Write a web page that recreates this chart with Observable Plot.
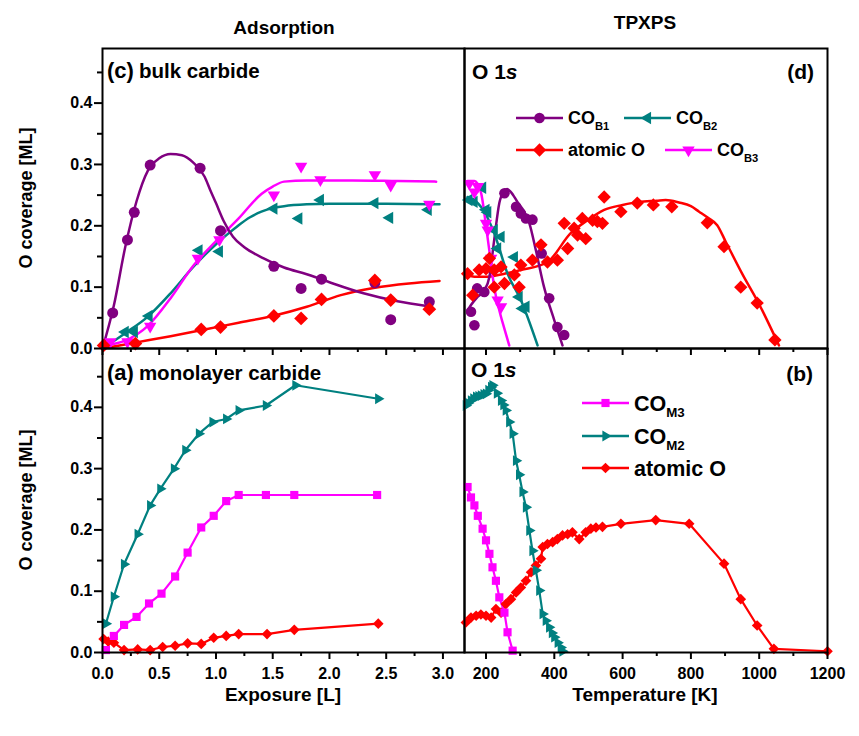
<!DOCTYPE html>
<html><head><meta charset="utf-8">
<script src="https://cdn.jsdelivr.net/npm/d3@7"></script>
<script src="https://cdn.jsdelivr.net/npm/@observablehq/plot@0.6"></script>
<style>
body{margin:0;background:#fff;}
#fig{position:relative;width:859px;height:736px;overflow:hidden;}
#fig svg{position:absolute;}
</style></head><body><div id="fig"></div>
<script>
// ---------- (c) bulk carbide: adsorption, O coverage vs exposure ----------
const bulkB1Exp = [0.09,0.22,0.28,0.42,0.86,1.04,1.51,1.75,1.93,2.40,2.54,2.88];
const bulkB1Cov = [0.058,0.177,0.222,0.299,0.294,0.192,0.134,0.098,0.113,0.107,0.047,0.076];
const bulkB1FitExp = [0,0.1,0.2,0.3,0.4,0.5,0.6,0.7,0.8,0.9,0.95,1.0,1.07,1.15,1.25,1.42,1.6,1.8,2.0,2.3,2.6,2.87];
const bulkB1FitCov = [0,0.07,0.165,0.24,0.29,0.31,0.317,0.315,0.303,0.28,0.258,0.237,0.207,0.182,0.165,0.147,0.132,0.121,0.108,0.09,0.077,0.069];

const bulkB2Exp = [0.20,0.28,0.41,0.85,1.03,1.51,1.73,1.92,2.40,2.53,2.87];
const bulkB2Cov = [0.027,0.027,0.053,0.160,0.158,0.228,0.212,0.242,0.237,0.213,0.226];
const bulkB2FitExp = [0,0.2,0.4,0.6,0.8,1.0,1.1,1.2,1.3,1.4,1.5,1.6,1.8,2.0,2.5,2.97];
const bulkB2FitCov = [0,0.025,0.052,0.09,0.133,0.17,0.186,0.201,0.214,0.223,0.229,0.232,0.235,0.236,0.236,0.235];

const bulkB3Exp = [0.07,0.22,0.42,0.84,1.03,1.51,1.75,1.92,2.40,2.54,2.88];
const bulkB3Cov = [0.011,0.011,0.036,0.147,0.177,0.25,0.297,0.275,0.283,0.266,0.235];
const bulkB3FitExp = [0,0.2,0.4,0.6,0.8,1.0,1.2,1.4,1.5,1.6,1.8,2.2,2.6,2.94];
const bulkB3FitCov = [0.005,0.013,0.037,0.082,0.135,0.175,0.212,0.252,0.264,0.272,0.274,0.274,0.273,0.272];

const bulkOExp = [0.01,0.29,0.87,1.04,1.51,1.75,1.93,2.40,2.54,2.88];
const bulkOCov = [0.005,0.008,0.031,0.035,0.053,0.049,0.08,0.111,0.079,0.064];
const bulkOFitExp = [0,0.3,0.6,0.9,1.2,1.5,1.8,2.1,2.4,2.7,2.97];
const bulkOFitCov = [0,0.01,0.02,0.031,0.042,0.053,0.068,0.087,0.099,0.106,0.11];

// ---------- (a) monolayer carbide: adsorption ----------
const monoM2Exp = [0.03,0.10,0.19,0.31,0.42,0.51,0.63,0.73,0.85,0.97,1.09,1.20,1.44,1.70,2.43];
const monoM2Cov = [0.047,0.091,0.144,0.193,0.240,0.267,0.300,0.330,0.357,0.376,0.381,0.395,0.403,0.436,0.414];
const monoM3Exp = [0.03,0.10,0.19,0.30,0.41,0.52,0.64,0.75,0.87,0.98,1.09,1.20,1.44,1.69,2.42];
const monoM3Cov = [0.004,0.027,0.045,0.058,0.08,0.096,0.124,0.163,0.204,0.223,0.247,0.257,0.257,0.257,0.257];
const monoOExp = [0.01,0.05,0.10,0.19,0.31,0.42,0.53,0.64,0.75,0.87,0.98,1.09,1.20,1.45,1.69,2.43];
const monoOCov = [0.022,0.018,0.016,0.004,0.005,0.004,0.009,0.011,0.015,0.014,0.024,0.027,0.030,0.030,0.037,0.047];

// ---------- (d) bulk carbide: TPXPS, O coverage vs temperature ----------
const tpdB1T = [156,166,174,195,254,288,302,317,336,363,385,409,429];
const tpdB1Cov = [0.060,0.038,0.098,0.092,0.253,0.231,0.220,0.212,0.210,0.155,0.082,0.035,0.022];
const tpdB1FitT = [146,156,175,195,210,224,239,254,262,273,292,312,327,346,370,400,424];
const tpdB1FitCov = [0.062,0.071,0.084,0.095,0.117,0.177,0.237,0.257,0.26,0.255,0.239,0.223,0.204,0.16,0.1,0.046,0.005];

const tpdB2T = [150,165,190,200,205,224,234,244,283,297,307,317];
const tpdB2Cov = [0.242,0.239,0.262,0.226,0.222,0.193,0.163,0.182,0.149,0.084,0.065,0.068];
const tpdB2FitT = [146,170,200,224,263,302,351];
const tpdB2FitCov = [0.247,0.24,0.218,0.188,0.122,0.079,0.005];

const tpdB3T = [151,166,176,200,205,215,234,244];
const tpdB3Cov = [0.269,0.255,0.264,0.204,0.193,0.147,0.079,0.068];
const tpdB3FitT = [146,166,185,200,212,224,240,255,268];
const tpdB3FitCov = [0.273,0.273,0.255,0.2,0.15,0.1,0.06,0.03,0.005];

const tpdOT = [146,161,180,200,210,224,224,244,254,283,297,302,336,361,380,409,429,439,458,468,482,492,512,526,541,546,595,643,690,744,848,897,946,994,1046];
const tpdOCov = [0.122,0.087,0.128,0.130,0.147,0.128,0.100,0.133,0.106,0.120,0.100,0.136,0.144,0.169,0.141,0.144,0.204,0.163,0.196,0.185,0.212,0.179,0.209,0.207,0.204,0.247,0.223,0.237,0.234,0.231,0.205,0.166,0.100,0.074,0.014];
const tpdOFitT = [146,166,205,254,302,380,448,497,546,600,648,700,726,765,800,824,850,877,902,950,999,1058];
const tpdOFitCov = [0.12,0.117,0.117,0.122,0.128,0.141,0.188,0.209,0.226,0.234,0.239,0.241,0.242,0.238,0.232,0.223,0.213,0.201,0.174,0.122,0.073,0.005];

// ---------- (b) monolayer carbide: TPXPS ----------
const tpmM3T = [146,156,166,176,190,200,210,219,229,239,254,263,278];
const tpmM3Cov = [0.270,0.253,0.240,0.223,0.202,0.183,0.161,0.139,0.117,0.090,0.065,0.033,0.003];
const tpmM2T = [141,148,156,163,171,178,185,193,200,207,215,219,232,244,251,258,268,278,288,297,307,317,327,336,346,356,366,375,385,393,400,410,419,424];
const tpmM2Cov = [0.403,0.407,0.411,0.414,0.417,0.418,0.419,0.421,0.422,0.428,0.433,0.436,0.423,0.411,0.404,0.395,0.376,0.357,0.313,0.29,0.262,0.237,0.199,0.166,0.134,0.101,0.063,0.052,0.041,0.032,0.025,0.016,0.008,0.002];
const tpmOT = [141,156,171,185,200,215,229,244,258,273,288,302,317,332,346,361,366,380,395,409,424,439,453,473,492,507,522,541,595,697,795,897,946,994,1043,1200];
const tpmOCov = [0.049,0.057,0.060,0.062,0.060,0.057,0.071,0.065,0.079,0.087,0.098,0.106,0.117,0.131,0.142,0.153,0.172,0.177,0.180,0.185,0.191,0.193,0.196,0.185,0.196,0.202,0.204,0.205,0.210,0.216,0.210,0.145,0.087,0.044,0.006,0.002];

// ---------- axis ticks ----------
const expMajor = [0,0.5,1,1.5,2,2.5,3];
const expMinor = [0.25,0.75,1.25,1.75,2.25,2.75];
const tMajor = [200,400,600,800,1000,1200];
const tMinor = [300,500,700,900,1100];
const covMajor = [0,0.1,0.2,0.3,0.4];
const covMinor = [0.05,0.15,0.25,0.35,0.45];

const PURPLE = "#800080", TEAL = "#008080", RED = "#ff0000", MAGENTA = "#ff00ff";
const FONT = '"Liberation Sans", Arial, Helvetica, sans-serif';
const fig = document.getElementById("fig");

const rows = (xs, ys) => xs.map((x, i) => ({x, y: ys[i]}));

function fit(xs, ys, color) {
  return Plot.line(rows(xs, ys), {x: "x", y: "y", stroke: color, strokeWidth: 2.5, curve: "monotone-x"});
}
function conn(xs, ys, color) {
  return Plot.line(rows(xs, ys), {x: "x", y: "y", stroke: color, strokeWidth: 2.2});
}
function pts(xs, ys, color, symbol, r, rotate = 0) {
  return Plot.dot(rows(xs, ys), {x: "x", y: "y", fill: color, stroke: "none", symbol, r, rotate});
}

function axes({xMaj, xMin, labelsX, yAxis}) {
  const fmtX = labelsX ? (d => (xMaj === expMajor ? d.toFixed(1) : String(d))) : (() => "");
  const m = [
    Plot.axisX(xMaj, {tickSize: 7, tickPadding: 8, strokeWidth: 2, tickFormat: fmtX, label: null}),
    Plot.axisX(xMin, {tickSize: 4, strokeWidth: 2, tickFormat: () => "", label: null})
  ];
  if (yAxis) {
    m.push(Plot.axisY(covMajor, {tickSize: 8, tickPadding: 2, strokeWidth: 2, tickFormat: d => d.toFixed(1), label: null}));
    m.push(Plot.axisY(covMinor, {tickSize: 5, strokeWidth: 2, tickFormat: () => "", label: null}));
  }
  return m;
}

function panel({left, top, w, h, mL, mR, mT, mB, xDomain, yDomain, marks}) {
  const svg = Plot.plot({
    width: w + mL + mR, height: h + mT + mB,
    marginLeft: mL, marginRight: mR, marginTop: mT, marginBottom: mB,
    x: {domain: xDomain, axis: null},
    y: {domain: yDomain, axis: null},
    style: {background: "transparent", fontFamily: FONT, fontSize: "16px", fontWeight: "bold", overflow: "visible", color: "black"},
    marks
  });
  svg.style.left = (left - mL) + "px";
  svg.style.top = (top - mT) + "px";
  fig.appendChild(svg);
}

const EXP = [0, 3.19], TEMP = [137, 1200];

// (c) bulk carbide, adsorption
panel({left: 102, top: 48, w: 362, h: 300, mL: 60, mR: 2, mT: 2, mB: 12,
  xDomain: EXP, yDomain: [0, 0.489],
  marks: [
    fit(bulkOFitExp, bulkOFitCov, RED),
    fit(bulkB2FitExp, bulkB2FitCov, TEAL),
    fit(bulkB3FitExp, bulkB3FitCov, MAGENTA),
    fit(bulkB1FitExp, bulkB1FitCov, PURPLE),
    pts(bulkB2Exp, bulkB2Cov, TEAL, "triangle", 4.6, -90),
    pts(bulkB3Exp, bulkB3Cov, MAGENTA, "triangle", 4.6, 180),
    pts(bulkB1Exp, bulkB1Cov, PURPLE, "circle", 5.5),
    pts(bulkOExp, bulkOCov, RED, "diamond2", 6.2),
    ...axes({xMaj: expMajor, xMin: expMinor, labelsX: false, yAxis: true}),
    Plot.frame({stroke: "black", strokeWidth: 2})
  ]});

// (a) monolayer carbide, adsorption
panel({left: 102, top: 348, w: 362, h: 304, mL: 60, mR: 2, mT: 2, mB: 40,
  xDomain: EXP, yDomain: [0, 0.496],
  marks: [
    conn(monoOExp, monoOCov, RED),
    conn(monoM3Exp, monoM3Cov, MAGENTA),
    conn(monoM2Exp, monoM2Cov, TEAL),
    pts(monoOExp, monoOCov, RED, "diamond2", 4.8),
    pts(monoM3Exp, monoM3Cov, MAGENTA, "square", 4.6),
    pts(monoM2Exp, monoM2Cov, TEAL, "triangle", 4.0, 90),
    ...axes({xMaj: expMajor, xMin: expMinor, labelsX: true, yAxis: true}),
    Plot.frame({stroke: "black", strokeWidth: 2})
  ]});

// (d) bulk carbide, TPXPS
panel({left: 464, top: 48, w: 363, h: 300, mL: 2, mR: 25, mT: 2, mB: 12,
  xDomain: TEMP, yDomain: [0, 0.489],
  marks: [
    fit(tpdOFitT, tpdOFitCov, RED),
    fit(tpdB1FitT, tpdB1FitCov, PURPLE),
    fit(tpdB2FitT, tpdB2FitCov, TEAL),
    fit(tpdB3FitT, tpdB3FitCov, MAGENTA),
    pts(tpdB1T, tpdB1Cov, PURPLE, "circle", 5.3),
    pts(tpdB2T, tpdB2Cov, TEAL, "triangle", 4.6, -90),
    pts(tpdB3T, tpdB3Cov, MAGENTA, "triangle", 4.6, 180),
    pts(tpdOT, tpdOCov, RED, "diamond2", 6.0),
    ...axes({xMaj: tMajor, xMin: tMinor, labelsX: false, yAxis: false}),
    Plot.frame({stroke: "black", strokeWidth: 2})
  ]});

// (b) monolayer carbide, TPXPS
panel({left: 464, top: 348, w: 363, h: 304, mL: 2, mR: 25, mT: 2, mB: 40,
  xDomain: TEMP, yDomain: [0, 0.496],
  marks: [
    conn(tpmOT, tpmOCov, RED),
    conn(tpmM2T, tpmM2Cov, TEAL),
    conn(tpmM3T, tpmM3Cov, MAGENTA),
    pts(tpmOT, tpmOCov, RED, "diamond2", 4.8),
    pts(tpmM2T, tpmM2Cov, TEAL, "triangle", 4.0, 90),
    pts(tpmM3T, tpmM3Cov, MAGENTA, "square", 4.6),
    ...axes({xMaj: tMajor, xMin: tMinor, labelsX: true, yAxis: false}),
    Plot.frame({stroke: "black", strokeWidth: 2})
  ]});

// ---------- titles, panel labels and legends ----------
const ov = d3.select(fig).append("svg")
  .attr("width", 859).attr("height", 736)
  .style("left", "0px").style("top", "0px")
  .attr("font-family", FONT).attr("font-weight", "bold").attr("fill", "black");

const txt = (x, y, s, size, anchor = "start") =>
  ov.append("text").attr("x", x).attr("y", y).attr("font-size", size).attr("text-anchor", anchor).text(s);

txt(284, 34, "Adsorption", 19, "middle");
txt(645, 29, "TPXPS", 19, "middle");
txt(283, 701, "Exposure [L]", 19, "middle");
txt(645, 701, "Temperature [K]", 19, "middle");
[198, 500].forEach(cy =>
  ov.append("text").attr("transform", `translate(32,${cy}) rotate(-90)`)
    .attr("font-size", 18).attr("text-anchor", "middle").text("O coverage [ML]"));

function panelLabel(x, y, tag, rest) {
  const t = ov.append("text").attr("x", x).attr("y", y).attr("font-size", 22).text(tag);
  t.append("tspan").attr("dx", 5).attr("font-size", 20.5).text(rest);
}
panelLabel(107, 78, "(c)", "bulk carbide");
panelLabel(107, 380, "(a)", "monolayer carbide");

function o1s(x, y) {
  const t = ov.append("text").attr("x", x).attr("y", y).attr("font-size", 21).text("O 1");
  t.append("tspan").attr("font-style", "italic").text("s");
}
o1s(472, 79);
o1s(471, 377);
txt(814, 79, "(d)", 21, "end");
txt(813, 381, "(b)", 21, "end");

function legendItem(x, y, color, type, r, rot, label, sub, fs = 18) {
  ov.append("line").attr("x1", x).attr("x2", x + 47).attr("y1", y).attr("y2", y)
    .attr("stroke", color).attr("stroke-width", 2.5);
  ov.append("path").attr("d", d3.symbol(type, Math.PI * r * r)())
    .attr("transform", `translate(${x + 23.5},${y}) rotate(${rot})`).attr("fill", color);
  const t = ov.append("text").attr("x", x + 52).attr("y", y + fs * 0.36).attr("font-size", fs).text(label);
  if (sub) t.append("tspan").attr("dy", fs * 0.28).attr("font-size", fs * 0.62).text(sub);
}
legendItem(516, 118, PURPLE, d3.symbolCircle, 5.3, 0, "CO", "B1");
legendItem(624, 118, TEAL, d3.symbolTriangle, 4.6, -90, "CO", "B2");
legendItem(516, 150, RED, d3.symbolDiamond2, 6.0, 0, "atomic O");
legendItem(665, 150, MAGENTA, d3.symbolTriangle, 4.6, 180, "CO", "B3");

legendItem(582, 403, MAGENTA, d3.symbolSquare, 4.6, 0, "CO", "M3", 21.5);
legendItem(582, 436, TEAL, d3.symbolTriangle, 4.0, 90, "CO", "M2", 21.5);
legendItem(582, 468, RED, d3.symbolDiamond2, 4.8, 0, "atomic O", null, 21.5);
</script></body></html>
